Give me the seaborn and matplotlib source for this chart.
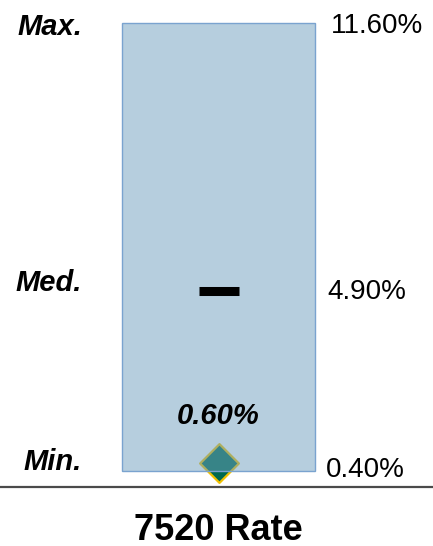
import matplotlib
matplotlib.use("Agg")
import matplotlib.pyplot as plt
import matplotlib.transforms as mtransforms
import seaborn as sns
import pandas as pd

# ---- data ----
category = ["7520 Rate"]
min_vals = [0.40]
med_vals = [4.90]
max_vals = [11.60]
current_vals = [0.60]
stat_labels = ["Max.", "Med.", "Min."]
value_labels = ["11.60%", "4.90%", "0.40%"]
current_labels = ["0.60%"]

sns.set_theme(style="white")
plt.rcParams['font.family'] = ['Liberation Sans', 'DejaVu Sans']

df = pd.DataFrame({"metric": category, "min": min_vals, "med": med_vals,
                   "max": max_vals, "value": current_vals})
df["span"] = df["max"] - df["min"]

fig = plt.figure(figsize=(4.33, 5.46), dpi=100)
ax = fig.add_axes([0, 0, 1, 1])

# current value diamond (under translucent range bar)
sns.scatterplot(data=df, x="metric", y="value", marker="D", s=390,
                color="#00694f", edgecolor="#f0c000", linewidth=1.6,
                ax=ax, zorder=2, legend=False)

# range bar min -> max
sns.barplot(data=df, x="metric", y="span", bottom=df["min"].values,
            width=1.0, saturation=1, color="#6f9fbf", ax=ax, zorder=3,
            linewidth=1.0, edgecolor="#6a9acb")
for p in ax.patches:
    p.set_facecolor((111/255, 159/255, 191/255, 0.5))
    p.set_edgecolor("#7aa3cf")

# median dash
sns.scatterplot(data=df, x="metric", y="med", marker="_", s=800,
                color="black", linewidth=6.5, ax=ax, zorder=4, legend=False)

# baseline
ax.axhline(0, color="#4a4a4a", lw=1.6, zorder=1)

ax.set_xlim(-1.132, 1.111)
ax.set_ylim(-1.475, 12.175)
ax.set_axis_off()

# left stat labels
blend_left = mtransforms.blended_transform_factory(fig.transFigure, ax.transData)
stat_vals = [max_vals[0], med_vals[0], min_vals[0]]
stat_offsets = [-4, 8, 9]
for lab, v, off in zip(stat_labels, stat_vals, stat_offsets):
    ax.annotate(lab, xy=(82/433, v), xycoords=blend_left,
                xytext=(0, off), textcoords="offset pixels",
                ha="right", va="center", fontsize=21,
                fontweight="bold", fontstyle="italic", color="black")

# right value labels
val_x = [331/433, 327/433, 326/433]
val_offsets = [-3, -1, 1]
for lab, v, x, off in zip(value_labels, stat_vals, val_x, val_offsets):
    ax.annotate(lab, xy=(x, v), xycoords=blend_left,
                xytext=(0, off), textcoords="offset pixels",
                ha="left", va="center", fontsize=20, color="black")

# current value label
for i, (lab, v) in enumerate(zip(current_labels, current_vals)):
    ax.annotate(lab, xy=(i, v), xytext=(0, 47), textcoords="offset pixels",
                ha="center", va="center", fontsize=21,
                fontweight="bold", fontstyle="italic", color="black")

# title below
blend_title = mtransforms.blended_transform_factory(ax.transData, fig.transFigure)
ax.text(0, 16/546, category[0], transform=blend_title, ha="center",
        va="center", fontsize=26, fontweight="bold", color="black")

fig.savefig("out.png", dpi=100)
